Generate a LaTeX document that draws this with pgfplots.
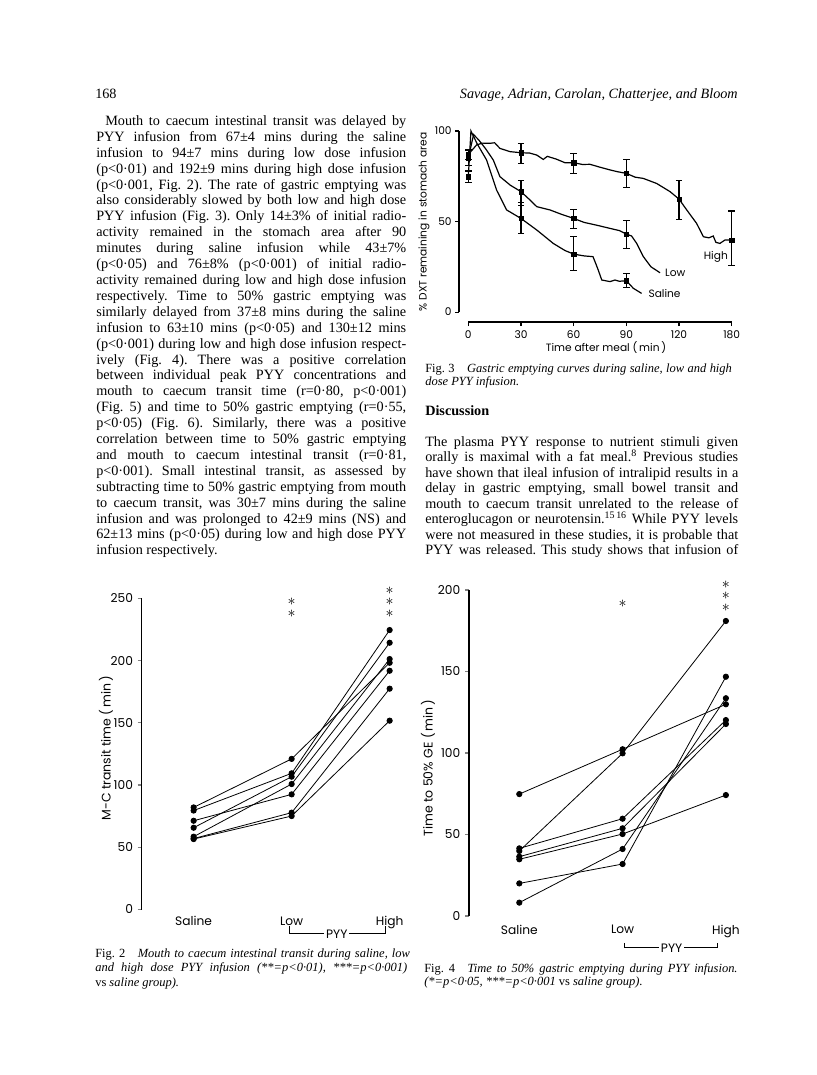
\documentclass[border=0pt]{standalone}
\usepackage{fontspec}
\setmainfont{Liberation Serif}
\newfontfamily\cf{Poppins}
\usepackage{pgfplots}
\pgfplotsset{compat=1.18}
\frenchspacing
\newcommand\tl[4]{\node[anchor=base west,inner sep=0pt,font=\fontsize{10.7}{12}\selectfont] at (#1,#2) {\hbox to #3bp{#4}};}
\newcommand\rl[3]{\node[anchor=base west,inner sep=0pt,font=\fontsize{10.7}{12}\selectfont] at (#1,#2) {#3};}
\newcommand\cl[4]{\node[anchor=base west,inner sep=0pt,font=\fontsize{9.4}{11}\selectfont] at (#1,#2) {\hbox to #3bp{#4}};}
\newcommand\cn[3]{\node[anchor=base west,inner sep=0pt,font=\fontsize{9.4}{11}\selectfont] at (#1,#2) {#3};}
\newcommand\sa{\hbox{$\ast$}}
\newcommand\stk[1]{\vbox{\baselineskip=8.8bp\lineskiplimit=-20pt\lineskip=0pt #1}}
\pgfplotsset{
  subj/.style={black,line width=0.6bp,mark=*,mark size=2bp,mark options={solid,fill=black}},
  curve/.style={black,line width=0.9bp,mark=none},
  ebar/.style={black,only marks,mark=square*,mark size=1.6bp,
    error bars/.cd,y dir=both,y explicit,
    error bar style={line width=0.8bp},
    error mark options={rotate=90,mark size=2.4bp,line width=0.8bp}},
}
\tikzset{stars/.style={inner sep=0pt,font=\fontsize{13}{13}\selectfont}}
\begin{document}
\begin{tikzpicture}[x=0.75bp,y=-0.75bp]
\path (0,0) rectangle (816,1075);
% header
\rl{95}{99}{168}
\node[anchor=base east,inner sep=0pt,font=\fontsize{10.7}{12}\selectfont\itshape] at (738,99) {Savage, Adrian, Carolan, Chatterjee, and Bloom};
% left column
\tl{105}{125.5}{225.75}{Mouth to caecum intestinal transit was delayed by}
\tl{96}{141.4}{232.5}{PYY infusion from 67±4 mins during the saline}
\tl{96}{157.3}{232.5}{infusion to 94±7 mins during low dose infusion}
\tl{96}{173.2}{232.5}{(p<0·01) and 192±9 mins during high dose infusion}
\tl{96}{189.1}{232.5}{(p<0·001, Fig. 2). The rate of gastric emptying was}
\tl{96}{205.0}{232.5}{also considerably slowed by both low and high dose}
\tl{96}{220.9}{232.5}{PYY infusion (Fig. 3). Only 14±3\% of initial radio-}
\tl{96}{236.8}{232.5}{activity remained in the stomach area after 90}
\tl{96}{252.7}{232.5}{minutes during saline infusion while 43±7\%}
\tl{96}{268.6}{232.5}{(p<0·05) and 76±8\% (p<0·001) of initial radio-}
\tl{96}{284.5}{232.5}{activity remained during low and high dose infusion}
\tl{96}{300.4}{232.5}{respectively. Time to 50\% gastric emptying was}
\tl{96}{316.3}{232.5}{similarly delayed from 37±8 mins during the saline}
\tl{96}{332.2}{232.5}{infusion to 63±10 mins (p<0·05) and 130±12 mins}
\tl{96}{348.1}{232.5}{(p<0·001) during low and high dose infusion respect-}
\tl{96}{364.0}{232.5}{ively (Fig. 4). There was a positive correlation}
\tl{96}{379.9}{232.5}{between individual peak PYY concentrations and}
\tl{96}{395.8}{232.5}{mouth to caecum transit time (r=0·80, p<0·001)}
\tl{96}{411.7}{232.5}{(Fig. 5) and time to 50\% gastric emptying (r=0·55,}
\tl{96}{427.6}{232.5}{p<0·05) (Fig. 6). Similarly, there was a positive}
\tl{96}{443.5}{232.5}{correlation between time to 50\% gastric emptying}
\tl{96}{459.4}{232.5}{and mouth to caecum intestinal transit (r=0·81,}
\tl{96}{475.3}{232.5}{p<0·001). Small intestinal transit, as assessed by}
\tl{96}{491.2}{232.5}{subtracting time to 50\% gastric emptying from mouth}
\tl{96}{507.1}{232.5}{to caecum transit, was 30±7 mins during the saline}
\tl{96}{523.0}{232.5}{infusion and was prolonged to 42±9 mins (NS) and}
\tl{96}{538.9}{232.5}{62±13 mins (p<0·05) during low and high dose PYY}
\rl{96}{554.8}{infusion respectively.}
% right column text
\cl{425}{372}{230}{Fig. 3\quad\itshape Gastric emptying curves during saline, low and high}
\cn{425}{385.4}{\itshape dose PYY infusion.}
\node[anchor=base west,inner sep=0pt,font=\fontsize{10.7}{12}\selectfont\bfseries] at (425,415) {Discussion};
\tl{425}{446.5}{234.75}{The plasma PYY response to nutrient stimuli given}
\tl{425}{461.9}{234.75}{orally is maximal with a fat meal.\textsuperscript{8} Previous studies}
\tl{425}{477.4}{234.75}{have shown that ileal infusion of intralipid results in a}
\tl{425}{492.8}{234.75}{delay in gastric emptying, small bowel transit and}
\tl{425}{508.2}{234.75}{mouth to caecum transit unrelated to the release of}
\tl{425}{523.7}{234.75}{enteroglucagon or neurotensin.\textsuperscript{15\,16} While PYY levels}
\tl{425}{539.1}{234.75}{were not measured in these studies, it is probable that}
\tl{425}{554.5}{234.75}{PYY was released. This study shows that infusion of}
% captions fig 2 and fig 4
\cl{95}{957}{236}{Fig. 2\quad\itshape Mouth to caecum intestinal transit during saline, low}
\cl{95}{971.5}{234}{\itshape and high dose PYY infusion (**=p<0·01), ***=p<0·001)}
\cn{95}{986}{vs \itshape saline group).}
\cl{424}{972}{235}{Fig. 4\quad\itshape Time to 50\% gastric emptying during PYY infusion.}
\cn{424}{985.5}{\itshape (*=p<0·05, ***=p<0·001 \upshape vs \itshape saline group).}
% axis titles
\node[rotate=90,font=\cf\fontsize{8}{9}\selectfont] at (424,222) {\% DXT remaining in stomach area};
\node[font=\cf\fontsize{8}{9}\selectfont] at (606,348) {Time after meal (\,min\,)};
\node[rotate=90,font=\cf\fontsize{9.4}{10}\selectfont] at (106,748) {M-C transit time (\,min\,)};
\node[rotate=90,font=\cf\fontsize{9.4}{10}\selectfont] at (428,768) {Time to 50\% GE (\,min\,)};

% ---------------- Fig 3
\coordinate (F3) at (459,322);
\begin{axis}[at={(F3)},anchor=south west,scale only axis,width=204.5bp,height=143.25bp,
  xmin=-5.3,xmax=150,ymin=-5.5,ymax=100,
  axis lines*=left,axis line style={draw=none},
  xtick={0,30,60,90,120,150},xticklabels={0,30,60,90,120,180},
  ytick={0,50,100},
  tick align=outside,major tick length=3bp,
  every tick/.style={black,line width=0.8bp},
  tick label style={font=\cf\fontsize{8}{9}\selectfont},
  yticklabel style={xshift=1bp},
  /pgf/number format/assume math mode=true,
  clip=false]
\draw[line width=0.9bp] (axis cs:-5.3,0) -- (axis cs:-5.3,100);
\draw[line width=0.9bp] (axis cs:0,-5.5) -- (axis cs:150,-5.5);
% Saline
\addplot[curve] coordinates {(0,74.7)(1.5,100)(5,93)(10.4,84)(16.1,67.4)(21.8,56.4)(30,51.7)(39,45.3)(48.4,37.9)(55,34)(60,32)(66,31)(71,30.6)(72.5,27)(74,23.2)(76,17.7)(80.7,16.8)(83.5,17.7)(86,17)(90,17.3)(94,13.1)(98.7,10.3)};
% Low
\addplot[curve] coordinates {(0,85)(3,98)(6,95)(10,90)(14.2,84)(18,74.8)(24,70)(30,66.5)(35,62)(39,58.2)(46.5,56.4)(53,54)(60,51.7)(66,49.5)(73,48)(80.7,46.2)(86,45)(90,43.1)(93,42)(95.9,37.9)(99.7,30.6)(104,25)(109.2,21.7)};
% High
\addplot[curve] coordinates {(0,87)(4.7,92.3)(8,93.3)(12.3,93.2)(15,93.5)(18,90.4)(23.7,88.6)(30,88)(35,87.8)(39,86.7)(42.7,84.3)(45,86)(50,84.5)(55,82.5)(60,82.5)(65,81.5)(69.3,81.6)(75,80)(80.7,78.5)(85,77.5)(90,76.6)(95,74.5)(99.7,73.8)(107.3,71)(114.9,66.5)(120,62.4)(124.4,56.4)(130,49)(133.9,41.6)(137,41)(139.5,42)(141,38.5)(143.3,37.9)(146.2,39.8)(150,39.8)};
\addplot[ebar] coordinates {(0,74.7) +=(0,3.2) -=(0,3.2) (30,51.7) +=(0,8.7) -=(0,8.2) (60,32) +=(0,9.6) -=(0,8.8) (90,17.3) +=(0,4.1) -=(0,3.9)};
\addplot[ebar] coordinates {(0,85) +=(0,4) -=(0,4) (30,66.5) +=(0,6.4) -=(0,7.4) (60,51.7) +=(0,5) -=(0,5.5) (90,43.1) +=(0,7.7) -=(0,7.9)};
\addplot[ebar] coordinates {(0,87) +=(0,3) -=(0,3) (30,88) +=(0,5.2) -=(0,5.9) (60,82.5) +=(0,5.2) -=(0,5.9) (90,76.6) +=(0,7.7) -=(0,7.7) (120,62.4) +=(0,10.5) -=(0,11.2) (150,39.8) +=(0,16) -=(0,14)};
\node[anchor=west,font=\cf\fontsize{8}{9}\selectfont,inner sep=0pt] at (axis cs:134,30.6) {High};
\node[anchor=west,font=\cf\fontsize{8}{9}\selectfont,inner sep=0pt] at (axis cs:112,21.7) {Low};
\node[anchor=west,font=\cf\fontsize{8}{9}\selectfont,inner sep=0pt] at (axis cs:102.5,10.3) {Saline};
\end{axis}

% ---------------- Fig 2
\coordinate (F2) at (141.7,909.5);
\begin{axis}[at={(F2)},anchor=south west,scale only axis,width=193.3bp,height=233.4bp,
  xmin=-0.53,xmax=2.1,ymin=0,ymax=250,
  axis lines*=left,x axis line style={draw=none},y axis line style={line width=0.9bp},
  xtick={0,1,2},xticklabels={Saline,Low,High},xtick style={draw=none},
  ytick={0,50,...,250},tick align=outside,major tick length=3bp,
  ytick style={line width=0.8bp},
  tick label style={font=\cf\fontsize{9.2}{10}\selectfont},
  xticklabel style={yshift=1.2bp},
  /pgf/number format/assume math mode=true,
  clip=false]
\addplot[subj] coordinates {(0,82)(1,121)(2,198.2)};
\addplot[subj] coordinates {(0,79.5)(1,109.4)(2,224.5)};
\addplot[subj] coordinates {(0,65.7)(1,106.7)(2,214.3)};
\addplot[subj] coordinates {(0,58.5)(1,100.8)(2,201.2)};
\addplot[subj] coordinates {(0,71.3)(1,92.5)(2,191.8)};
\addplot[subj] coordinates {(0,57)(1,77.8)(2,177.4)};
\addplot[subj] coordinates {(0,56.6)(1,75.1)(2,151.7)};
\node[stars] at (axis cs:1,242.5) {\stk{\sa\sa}};
\node[stars] at (axis cs:2,246.8) {\stk{\sa\sa\sa}};
\draw[line width=0.7bp] (axis cs:0.98,-13.5) |- (axis cs:1.96,-19.5) -- (axis cs:1.96,-13.5);
\node[fill=white,inner sep=1.5pt,font=\cf\fontsize{9.2}{10}\selectfont] at (axis cs:1.46,-19.5) {PYY};
\end{axis}

% ---------------- Fig 4
\coordinate (F4) at (469,916);
\begin{axis}[at={(F4)},anchor=south west,scale only axis,width=200.4bp,height=244.5bp,
  xmin=-0.487,xmax=2.1,ymin=0,ymax=200,
  axis lines*=left,x axis line style={draw=none},y axis line style={line width=0.9bp},
  xtick={0,1,2},xticklabels={Saline,Low,High},xtick style={draw=none},
  ytick={0,50,...,200},tick align=outside,major tick length=3bp,
  ytick style={line width=0.8bp},
  tick label style={font=\cf\fontsize{9.2}{10}\selectfont},
  xticklabel style={yshift=0bp},
  /pgf/number format/assume math mode=true,
  clip=false]
\addplot[subj] coordinates {(0,74.8)(1,102.3)(2,129.9)};
\addplot[subj] coordinates {(0,39.9)(1,99.8)(2,181)};
\addplot[subj] coordinates {(0,41.5)(1,59.7)(2,120.2)};
\addplot[subj] coordinates {(0,36.4)(1,53.8)(2,117.8)};
\addplot[subj] coordinates {(0,34.8)(1,50.3)(2,74.2)};
\addplot[subj] coordinates {(0,20)(1,31.9)(2,146.8)};
\addplot[subj] coordinates {(0,8.2)(1,41.1)(2,133.6)};
\node[stars] at (axis cs:1,191.4) {\stk{\sa}};
\node[stars] at (axis cs:2,196.3) {\stk{\sa\sa\sa}};
\draw[line width=0.7bp] (axis cs:1.02,-16.5) |- (axis cs:1.92,-19.5) -- (axis cs:1.92,-16.5);
\node[fill=white,inner sep=1.5pt,font=\cf\fontsize{9.2}{10}\selectfont] at (axis cs:1.475,-19.5) {PYY};
\end{axis}
\end{tikzpicture}
\end{document}
